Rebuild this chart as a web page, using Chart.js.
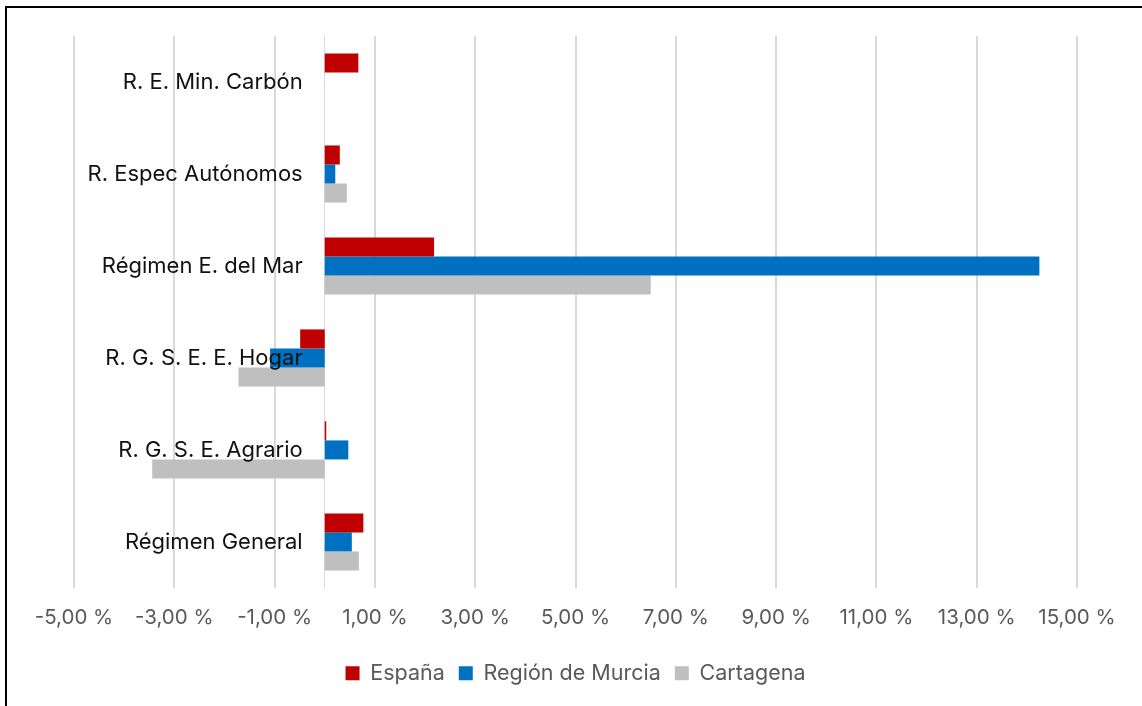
<!DOCTYPE html>
<html>
<head>
<meta charset="utf-8">
<script src="https://cdn.jsdelivr.net/npm/chart.js@4/dist/chart.umd.min.js"></script>
<style>
  html, body { margin: 0; padding: 0; background: #fff; overflow: hidden; }
  #frame { position: absolute; left: 5px; top: 6px; width: 1300px; height: 900px; border: 2px solid #000; box-sizing: border-box; }
  #c { position: absolute; left: 0; top: 0; }
</style>
</head>
<body>
<div id="frame"></div>
<canvas id="c" width="1142" height="706"></canvas>
<script>
const categories = ['R. E. Min. Carbón', 'R. Espec Autónomos', 'Régimen E. del Mar', 'R. G. S. E. E. Hogar', 'R. G. S. E. Agrario', 'Régimen General'];
const espana = [0.67, 0.30, 2.18, -0.49, 0.03, 0.77];
const murcia = [null, 0.21, 14.25, -1.09, 0.47, 0.54];
const cartagena = [null, 0.44, 6.50, -1.72, -3.44, 0.68];
const xTicks = [-5, -3, -1, 1, 3, 5, 7, 9, 11, 13, 15];
const seriesNames = ['España', 'Región de Murcia', 'Cartagena'];

const FONT = 'Inter, "Open Sans", sans-serif';

new Chart(document.getElementById('c'), {
  type: 'bar',
  data: {
    labels: categories,
    datasets: [
      { label: seriesNames[0], data: espana, backgroundColor: '#C00000' },
      { label: seriesNames[1], data: murcia, backgroundColor: '#0070C0' },
      { label: seriesNames[2], data: cartagena, backgroundColor: '#BFBFBF' }
    ]
  },
  options: {
    indexAxis: 'y',
    responsive: false,
    animation: false,
    datasets: { bar: { barPercentage: 1, categoryPercentage: 0.62 } },
    layout: { padding: { left: 74, right: 65, top: 36, bottom: 12 } },
    scales: {
      x: {
        type: 'linear',
        min: -5,
        max: 15,
        afterBuildTicks: (axis) => { axis.ticks = xTicks.map(v => ({ value: v })); },
        grid: { color: '#D9D9D9', lineWidth: 2, drawTicks: false },
        border: { display: false },
        ticks: {
          color: '#595959',
          font: { family: FONT, size: 20.5 },
          padding: 18,
          maxRotation: 0,
          autoSkip: false,
          callback: (v) => v.toFixed(2).replace('.', ',') + ' %'
        }
      },
      y: {
        position: { x: 0 },
        grid: { display: false, drawTicks: false },
        border: { display: true, color: '#D9D9D9', width: 1 },
        ticks: { display: false }
      },
      yLabels: {
        type: 'category',
        axis: 'y',
        offset: true,
        position: { x: -0.44 },
        grid: { display: false, drawTicks: false },
        border: { display: false },
        ticks: {
          z: 1,
          color: '#111',
          font: { family: FONT, size: 22 }
        }
      }
    },
    plugins: {
      legend: {
        position: 'bottom',
        labels: {
          color: '#595959',
          font: { family: FONT, size: 21.5 },
          boxWidth: 14,
          boxHeight: 14,
          padding: 14
        }
      },
      tooltip: { enabled: false }
    }
  }
});
</script>
</body>
</html>
